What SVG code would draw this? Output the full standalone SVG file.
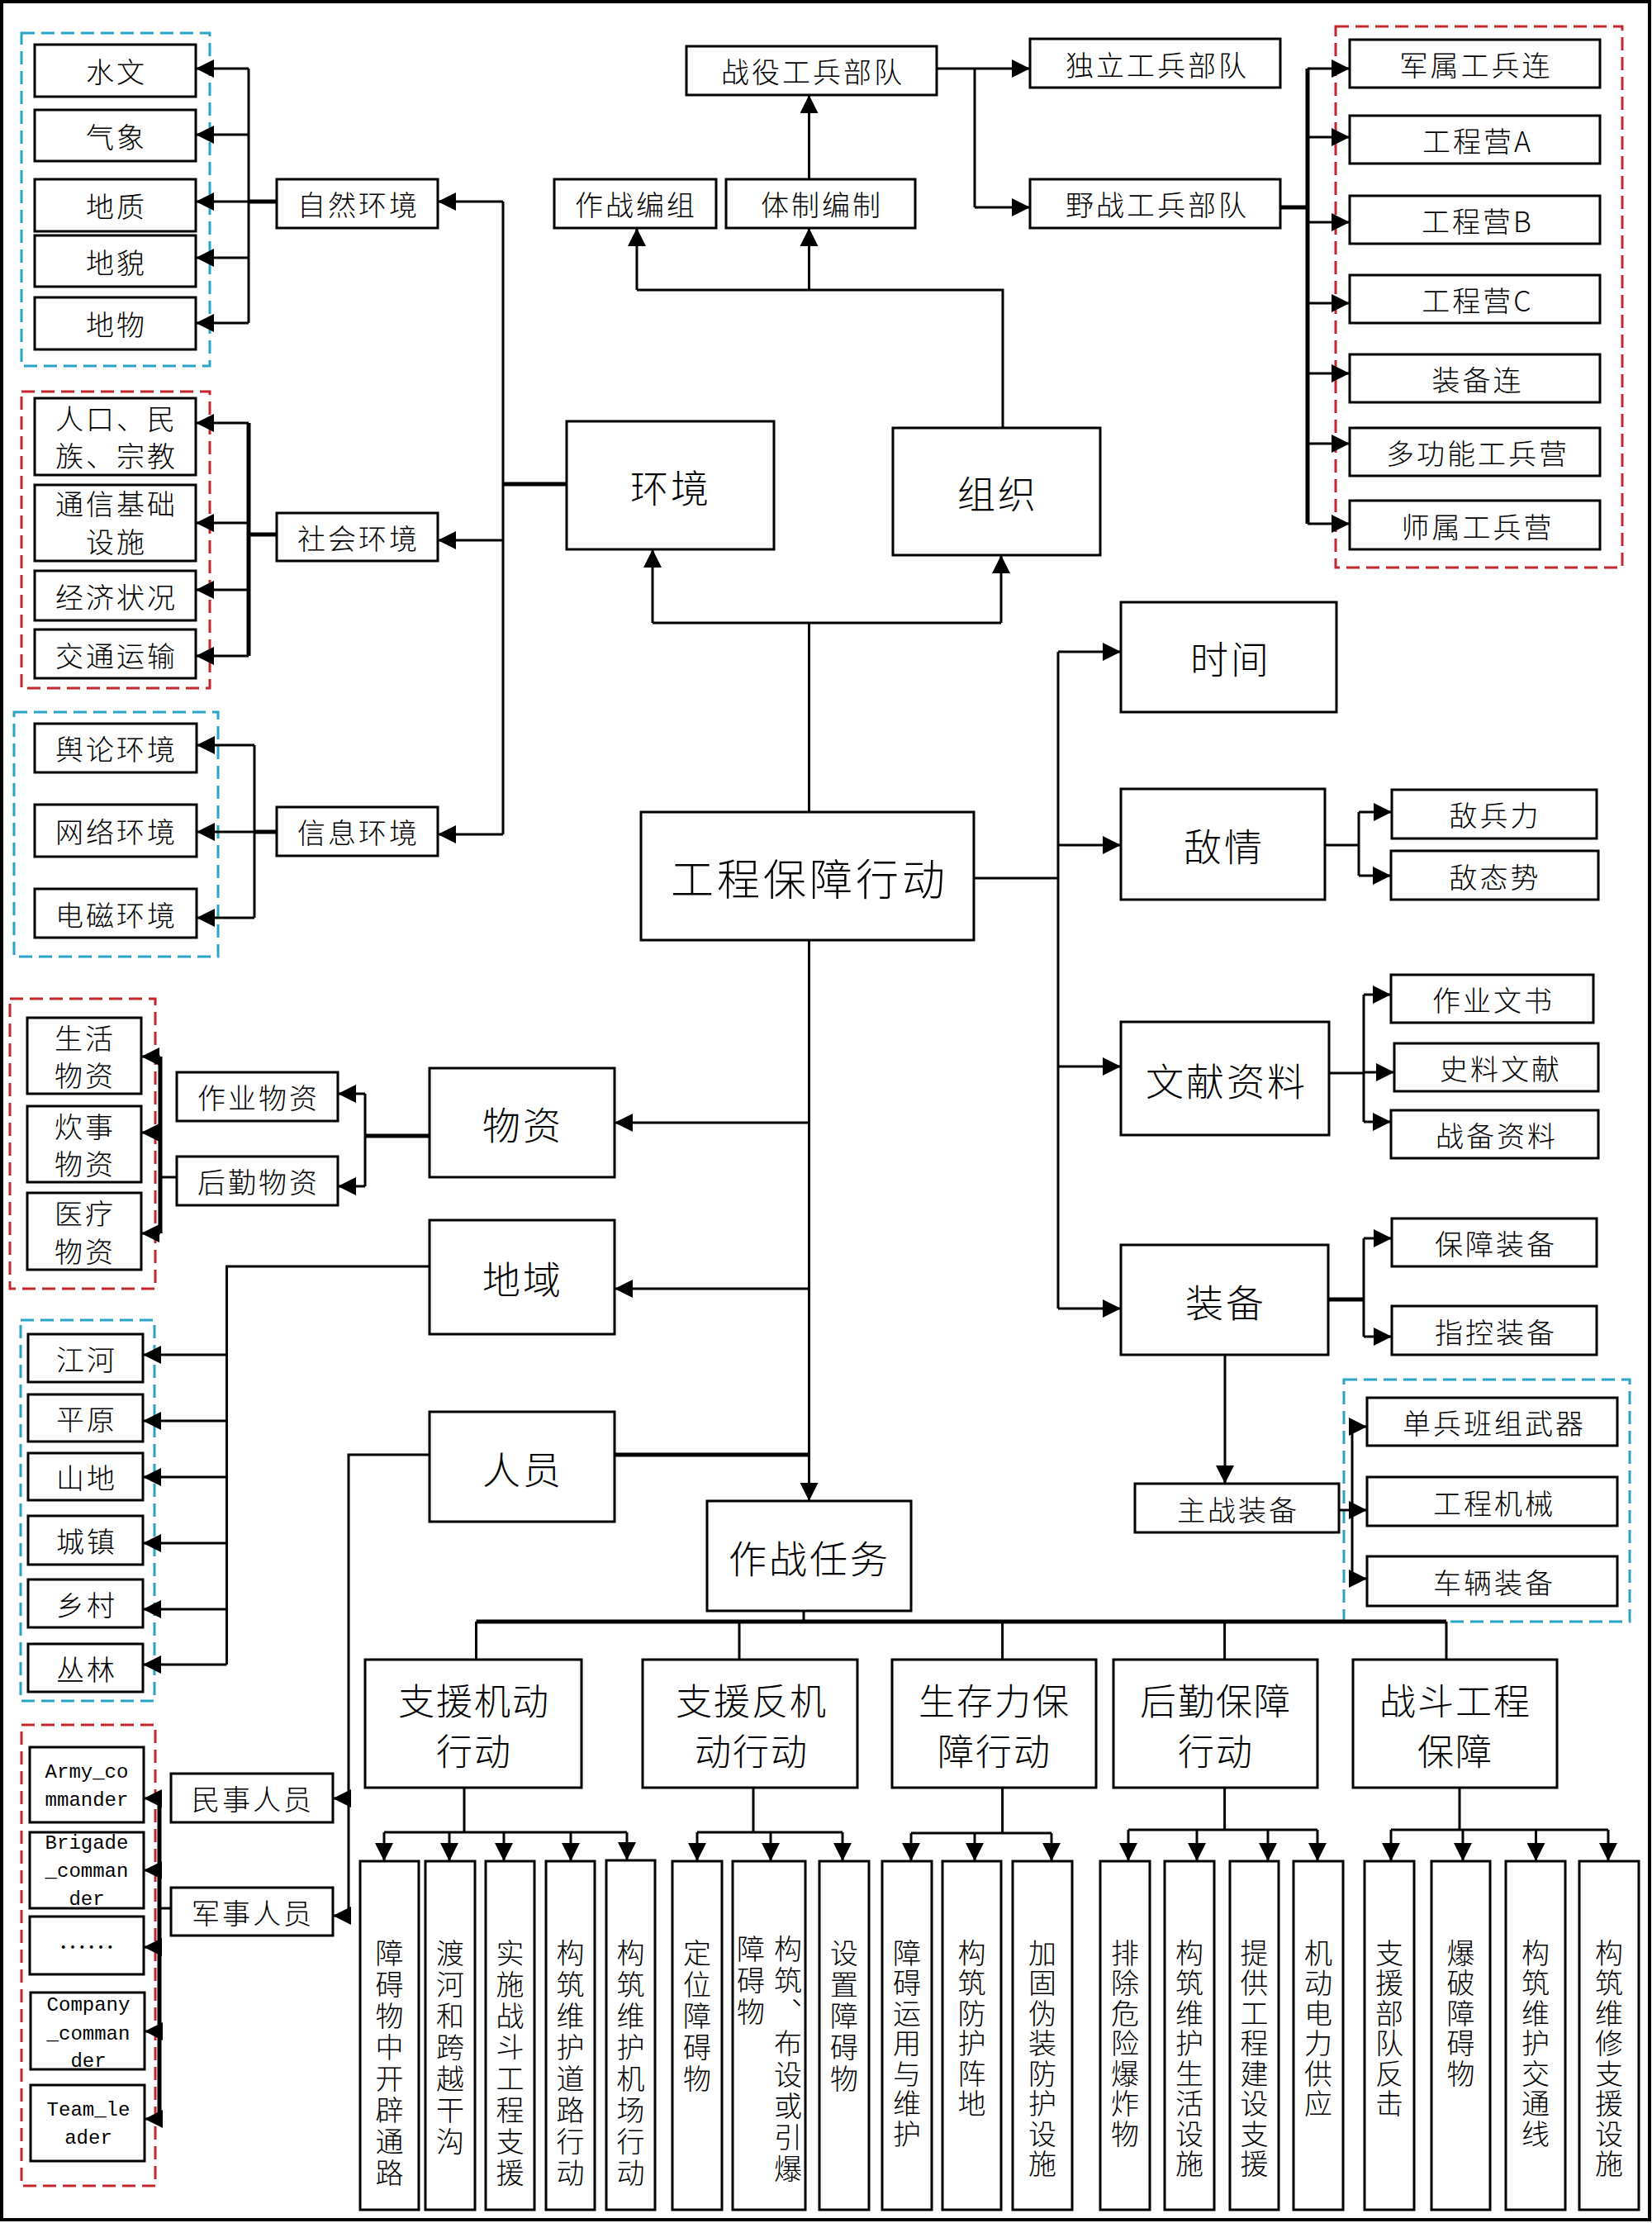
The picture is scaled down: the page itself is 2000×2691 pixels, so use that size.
<svg xmlns="http://www.w3.org/2000/svg" width="2000" height="2691" viewBox="0 0 2000 2691">
<defs>
<marker id="ah" markerUnits="userSpaceOnUse" markerWidth="24" markerHeight="22" refX="22" refY="11" orient="auto">
<path d="M0,0 L22,11 L0,22 z" fill="#000"/>
</marker>
<style>
.box{fill:#fff;stroke:#000;stroke-width:3}
.t{font-family:"Noto Sans CJK SC","Noto Sans CJK JP",sans-serif;fill:#000;text-anchor:middle;dominant-baseline:central;font-weight:300}
.s34{font-size:34px;letter-spacing:3px}
.s46{font-size:46px;letter-spacing:3px}
.s52{font-size:52px;letter-spacing:4px}
.s44{font-size:44px;letter-spacing:2px}
.vt{font-size:34px;writing-mode:vertical-rl;text-anchor:start;letter-spacing:4px}
.vt2{font-size:34px;writing-mode:vertical-rl;text-anchor:start;letter-spacing:2.5px}
.m{font-family:"Liberation Mono",monospace;font-size:24px;fill:#000;text-anchor:middle;dominant-baseline:central}
.ln{fill:none;stroke:#000;stroke-width:3}
.lk{stroke-width:5}
.ar{marker-end:url(#ah)}
.dc{fill:none;stroke:#2aa5c8;stroke-width:3;stroke-dasharray:16 8}
.dr{fill:none;stroke:#c1272d;stroke-width:3;stroke-dasharray:16 8}
</style>
</defs>
<rect x="0" y="0" width="2000" height="2691" fill="#fff"/>
<rect x="2" y="2" width="1995" height="2685" fill="none" stroke="#000" stroke-width="4"/>

<g id="groups">
<rect class="dc" x="26" y="40" width="228" height="403"/>
<rect class="dr" x="26" y="474" width="228" height="359"/>
<rect class="dc" x="17" y="862" width="247" height="296"/>
<rect class="dr" x="1617" y="32" width="347" height="655"/>
<rect class="dc" x="1627" y="1670" width="346" height="293"/>
<rect class="dr" x="12" y="1209" width="176" height="351"/>
<rect class="dc" x="25" y="1598" width="162" height="461"/>
<rect class="dr" x="26" y="2088" width="162" height="558"/>
</g>

<g id="connectors">
<path class="ln lk" d="M686,586 H609"/>
<path class="ln" d="M609,244 V1010"/>
<path class="ln ar" d="M609,244 H530"/>
<path class="ln ar" d="M609,654 H530"/>
<path class="ln ar" d="M609,1010 H530"/>
<path class="ln lk" d="M335,244 H301"/>
<path class="ln" d="M301,83 V391"/>
<path class="ln ar" d="M301,83 H237"/>
<path class="ln ar" d="M301,163 H237"/>
<path class="ln ar" d="M301,244 H237"/>
<path class="ln ar" d="M301,312 H237"/>
<path class="ln ar" d="M301,391 H237"/>
<path class="ln lk" d="M335,647 H301"/>
<path class="ln lk" d="M301,512 V794"/>
<path class="ln ar" d="M301,512 H237"/>
<path class="ln ar" d="M301,633 H237"/>
<path class="ln ar" d="M301,714 H237"/>
<path class="ln ar" d="M301,794 H237"/>
<path class="ln lk" d="M335,1007 H308"/>
<path class="ln" d="M308,902 V1111"/>
<path class="ln ar" d="M308,902 H238"/>
<path class="ln ar" d="M308,1007 H238"/>
<path class="ln ar" d="M308,1111 H238"/>

<path class="ln" d="M979.5,983 V754"/>
<path class="ln" d="M790,754 H1212"/>
<path class="ln ar" d="M790,754 V665"/>
<path class="ln ar" d="M1212,754 V672"/>
<path class="ln" d="M1214,518 V351 H771"/>
<path class="ln ar" d="M771,351 V276"/>
<path class="ln ar" d="M979.5,351 V276"/>
<path class="ln ar" d="M979.5,217 V115"/>
<path class="ln ar" d="M1134,83 H1247"/>
<path class="ln" d="M1180,83 V251"/>
<path class="ln ar" d="M1180,251 H1247"/>
<path class="ln lk" d="M1550,251 H1583"/>
<path class="ln lk" d="M1583,83 V634"/>
<path class="ln ar" d="M1583,83 H1634"/>
<path class="ln ar" d="M1583,166 H1634"/>
<path class="ln ar" d="M1583,269 H1634"/>
<path class="ln ar" d="M1583,367 H1634"/>
<path class="ln ar" d="M1583,452 H1634"/>
<path class="ln ar" d="M1583,537 H1634"/>
<path class="ln ar" d="M1583,634 H1634"/>

<path class="ln" d="M1179,1063 H1281"/>
<path class="ln" d="M1281,789 V1584"/>
<path class="ln ar" d="M1281,789 H1357"/>
<path class="ln ar" d="M1281,1023 H1357"/>
<path class="ln ar" d="M1281,1291 H1357"/>
<path class="ln ar" d="M1281,1584 H1357"/>
<path class="ln" d="M1604,1023 H1645"/>
<path class="ln" d="M1645,983 V1060"/>
<path class="ln ar" d="M1645,983 H1685"/>
<path class="ln ar" d="M1645,1060 H1684"/>
<path class="ln" d="M1609,1299 H1651"/>
<path class="ln" d="M1651,1204 V1358"/>
<path class="ln ar" d="M1651,1204 H1684"/>
<path class="ln ar" d="M1651,1298 H1688"/>
<path class="ln ar" d="M1651,1358 H1684"/>
<path class="ln lk" d="M1608,1573 H1651"/>
<path class="ln" d="M1651,1499 V1618"/>
<path class="ln ar" d="M1651,1499 H1685"/>
<path class="ln ar" d="M1651,1618 H1685"/>
<path class="ln ar" d="M1483,1640 V1796"/>
<path class="ln" d="M1621,1828 H1637"/>
<path class="ln" d="M1637,1727 V1911"/>
<path class="ln ar" d="M1637,1727 H1655"/>
<path class="ln ar" d="M1637,1828 H1655"/>
<path class="ln ar" d="M1637,1911 H1655"/>

<path class="ln ar" d="M979.5,1138 V1817"/>
<path class="ln ar" d="M979.5,1359 H744"/>
<path class="ln ar" d="M979.5,1560 H744"/>
<path class="ln lk" d="M744,1761 H979.5"/>
<path class="ln lk" d="M520,1375 H442"/>
<path class="ln" d="M442,1324 V1436"/>
<path class="ln ar" d="M442,1324 H409"/>
<path class="ln ar" d="M442,1436 H409"/>
<path class="ln" d="M214,1425 H194"/>
<path class="ln lk" d="M194,1279 V1493"/>
<path class="ln ar" d="M194,1279 H171"/>
<path class="ln ar" d="M194,1371 H171"/>
<path class="ln ar" d="M194,1493 H171"/>
<path class="ln" d="M520,1533 H274.5 V2015"/>
<path class="ln ar" d="M274.5,1640 H173"/>
<path class="ln ar" d="M274.5,1720 H173"/>
<path class="ln ar" d="M274.5,1788 H173"/>
<path class="ln ar" d="M274.5,1868 H173"/>
<path class="ln ar" d="M274.5,1948 H173"/>
<path class="ln ar" d="M274.5,2015 H173"/>
<path class="ln" d="M520,1761 H422 V2319"/>
<path class="ln ar" d="M422,2177 H403"/>
<path class="ln ar" d="M422,2319 H403"/>
<path class="ln" d="M207,2310 H193"/>
<path class="ln lk" d="M193,2177 V2565"/>
<path class="ln ar" d="M193,2177 H174"/>
<path class="ln ar" d="M193,2264 H174"/>
<path class="ln ar" d="M193,2357 H174"/>
<path class="ln ar" d="M193,2459 H175"/>
<path class="ln ar" d="M193,2565 H175"/>

<path class="ln" d="M973,1950 V1963"/>
<path class="ln lk" d="M576.5,1963 H1751"/>
<path class="ln" d="M576.5,1963 V2009 M895,1963 V2009 M1213.6,1963 V2009 M1482.6,1963 V2009 M1751,1963 V2009"/>
<path class="ln" d="M562,2164 V2218 M465,2218 H759"/>
<path class="ln ar" d="M465,2218 V2253"/>
<path class="ln ar" d="M544,2218 V2253"/>
<path class="ln ar" d="M610,2218 V2253"/>
<path class="ln ar" d="M691,2218 V2253"/>
<path class="ln ar" d="M759,2218 V2252"/>
<path class="ln" d="M912,2164 V2218 M844,2218 H1020"/>
<path class="ln ar" d="M844,2218 V2253"/>
<path class="ln ar" d="M933,2218 V2253"/>
<path class="ln ar" d="M1020,2218 V2253"/>
<path class="ln" d="M1213.6,2164 V2219 M1103,2219 H1273"/>
<path class="ln ar" d="M1103,2219 V2253"/>
<path class="ln ar" d="M1180,2219 V2253"/>
<path class="ln ar" d="M1273,2219 V2253"/>
<path class="ln" d="M1482.6,2164 V2215 M1366,2215 H1595"/>
<path class="ln ar" d="M1366,2215 V2253"/>
<path class="ln ar" d="M1449,2215 V2253"/>
<path class="ln ar" d="M1535,2215 V2253"/>
<path class="ln ar" d="M1595,2215 V2253"/>
<path class="ln" d="M1767,2164 V2215 M1684,2215 H1947"/>
<path class="ln ar" d="M1684,2215 V2253"/>
<path class="ln ar" d="M1771,2215 V2253"/>
<path class="ln ar" d="M1859.5,2215 V2253"/>
<path class="ln ar" d="M1947,2215 V2253"/>
</g>

<g id="n-shuiwen"><rect class="box" x="42" y="54" width="195" height="63"/><text class="t s34" x="141" y="85">水文</text></g>
<g id="n-qixiang"><rect class="box" x="42" y="133" width="195" height="62"/><text class="t s34" x="141" y="164">气象</text></g>
<g id="n-dizhi"><rect class="box" x="42" y="217" width="195" height="63"/><text class="t s34" x="141" y="248">地质</text></g>
<g id="n-dimao"><rect class="box" x="42" y="285" width="195" height="62"/><text class="t s34" x="141" y="316">地貌</text></g>
<g id="n-diwu"><rect class="box" x="42" y="360" width="195" height="63"/><text class="t s34" x="141" y="391">地物</text></g>
<g id="n-ziran"><rect class="box" x="335" y="217" width="195" height="59"/><text class="t s34" x="434" y="246">自然环境</text></g>
<g id="n-renkou"><rect class="box" x="42" y="482" width="195" height="93"/><text class="t s34" x="141" y="505"><tspan x="141" y="505">人口、民</tspan><tspan x="141" y="550">族、宗教</tspan></text></g>
<g id="n-tongxin"><rect class="box" x="42" y="587" width="195" height="92"/><text class="t s34" x="141" y="608"><tspan x="141" y="608">通信基础</tspan><tspan x="141" y="654">设施</tspan></text></g>
<g id="n-jingji"><rect class="box" x="42" y="691" width="195" height="60"/><text class="t s34" x="141" y="721">经济状况</text></g>
<g id="n-jiaotong"><rect class="box" x="42" y="762" width="195" height="59"/><text class="t s34" x="141" y="792">交通运输</text></g>
<g id="n-shehui"><rect class="box" x="335" y="621" width="195" height="58"/><text class="t s34" x="434" y="650">社会环境</text></g>
<g id="n-yulun"><rect class="box" x="42" y="876" width="196" height="59"/><text class="t s34" x="141" y="905">舆论环境</text></g>
<g id="n-wangluo"><rect class="box" x="42" y="974" width="196" height="63"/><text class="t s34" x="141" y="1005">网络环境</text></g>
<g id="n-dianci"><rect class="box" x="42" y="1076" width="196" height="59"/><text class="t s34" x="141" y="1106">电磁环境</text></g>
<g id="n-xinxi"><rect class="box" x="335" y="977" width="195" height="59"/><text class="t s34" x="434" y="1006">信息环境</text></g>
<g id="n-huanjing"><rect class="box" x="686" y="510" width="251" height="155"/><text class="t s46" x="812" y="588">环境</text></g>
<g id="n-zuzhi"><rect class="box" x="1081" y="518" width="251" height="154"/><text class="t s46" x="1208" y="595">组织</text></g>
<g id="n-zuozhanbianzu"><rect class="box" x="671" y="217" width="196" height="59"/><text class="t s34" x="770" y="246">作战编组</text></g>
<g id="n-tizhi"><rect class="box" x="879" y="217" width="229" height="59"/><text class="t s34" x="995" y="246">体制编制</text></g>
<g id="n-zhanyi"><rect class="box" x="831" y="56" width="303" height="59"/><text class="t s34" x="984" y="85">战役工兵部队</text></g>
<g id="n-duli"><rect class="box" x="1247" y="47" width="303" height="59"/><text class="t s34" x="1401" y="77">独立工兵部队</text></g>
<g id="n-yezhan"><rect class="box" x="1247" y="217" width="303" height="59"/><text class="t s34" x="1401" y="246">野战工兵部队</text></g>
<g id="n-junshu"><rect class="box" x="1634" y="48" width="303" height="58"/><text class="t s34" x="1787" y="77">军属工兵连</text></g>
<g id="n-gcya"><rect class="box" x="1634" y="140" width="303" height="58"/><text class="t s34" x="1789" y="169">工程营A</text></g>
<g id="n-gcyb"><rect class="box" x="1634" y="237" width="303" height="58"/><text class="t s34" x="1789" y="266">工程营B</text></g>
<g id="n-gcyc"><rect class="box" x="1634" y="333" width="303" height="58"/><text class="t s34" x="1789" y="362">工程营C</text></g>
<g id="n-zhuangbeilian"><rect class="box" x="1634" y="429" width="303" height="58"/><text class="t s34" x="1789" y="458">装备连</text></g>
<g id="n-duogongneng"><rect class="box" x="1634" y="518" width="303" height="58"/><text class="t s34" x="1789" y="547">多功能工兵营</text></g>
<g id="n-shishu"><rect class="box" x="1634" y="606" width="303" height="59"/><text class="t s34" x="1789" y="636">师属工兵营</text></g>

<g id="n-main"><rect class="box" x="776" y="983" width="403" height="155"/><text class="t s52" x="980" y="1061">工程保障行动</text></g>
<g id="n-shijian"><rect class="box" x="1357" y="729" width="261" height="133"/><text class="t s46" x="1490" y="795">时间</text></g>
<g id="n-diqing"><rect class="box" x="1357" y="955" width="247" height="134"/><text class="t s46" x="1482" y="1022">敌情</text></g>
<g id="n-dibingli"><rect class="box" x="1685" y="956" width="248" height="59"/><text class="t s34" x="1810" y="985">敌兵力</text></g>
<g id="n-ditaishi"><rect class="box" x="1684" y="1030" width="251" height="59"/><text class="t s34" x="1810" y="1060">敌态势</text></g>
<g id="n-wenxian"><rect class="box" x="1357" y="1237" width="252" height="137"/><text class="t s46" x="1485" y="1306">文献资料</text></g>
<g id="n-zuoyewenshu"><rect class="box" x="1684" y="1180" width="245" height="58"/><text class="t s34" x="1808" y="1209">作业文书</text></g>
<g id="n-shiliao"><rect class="box" x="1688" y="1263" width="247" height="58"/><text class="t s34" x="1817" y="1292">史料文献</text></g>
<g id="n-zhanbei"><rect class="box" x="1684" y="1344" width="251" height="58"/><text class="t s34" x="1812" y="1373">战备资料</text></g>
<g id="n-zhuangbei"><rect class="box" x="1357" y="1507" width="251" height="133"/><text class="t s46" x="1484" y="1574">装备</text></g>
<g id="n-baozhang"><rect class="box" x="1685" y="1475" width="248" height="58"/><text class="t s34" x="1811" y="1504">保障装备</text></g>
<g id="n-zhikong"><rect class="box" x="1685" y="1581" width="248" height="59"/><text class="t s34" x="1811" y="1611">指控装备</text></g>
<g id="n-zhuzhan"><rect class="box" x="1374" y="1796" width="247" height="59"/><text class="t s34" x="1499" y="1826">主战装备</text></g>
<g id="n-danbing"><rect class="box" x="1655" y="1692" width="303" height="58"/><text class="t s34" x="1809" y="1721">单兵班组武器</text></g>
<g id="n-gongchengjixie"><rect class="box" x="1655" y="1788" width="303" height="59"/><text class="t s34" x="1809" y="1818">工程机械</text></g>
<g id="n-cheliang"><rect class="box" x="1655" y="1884" width="303" height="60"/><text class="t s34" x="1809" y="1914">车辆装备</text></g>

<g id="n-wuzi"><rect class="box" x="520" y="1293" width="224" height="132"/><text class="t s46" x="633" y="1359">物资</text></g>
<g id="n-shenghuo"><rect class="box" x="33" y="1232" width="138" height="92"/><text class="t s34" x="103" y="1255"><tspan x="103" y="1255">生活</tspan><tspan x="103" y="1300">物资</tspan></text></g>
<g id="n-chuishi"><rect class="box" x="33" y="1339" width="138" height="92"/><text class="t s34" x="103" y="1362"><tspan x="103" y="1362">炊事</tspan><tspan x="103" y="1407">物资</tspan></text></g>
<g id="n-yiliao"><rect class="box" x="33" y="1444" width="138" height="93"/><text class="t s34" x="103" y="1467"><tspan x="103" y="1467">医疗</tspan><tspan x="103" y="1513">物资</tspan></text></g>
<g id="n-zuoyewuzi"><rect class="box" x="214" y="1298" width="195" height="59"/><text class="t s34" x="313" y="1327">作业物资</text></g>
<g id="n-houqinwuzi"><rect class="box" x="214" y="1400" width="195" height="59"/><text class="t s34" x="313" y="1429">后勤物资</text></g>
<g id="n-diyu"><rect class="box" x="520" y="1477" width="224" height="138"/><text class="t s46" x="633" y="1546">地域</text></g>
<g id="n-jianghe"><rect class="box" x="34" y="1615" width="139" height="58"/><text class="t s34" x="105" y="1644">江河</text></g>
<g id="n-pingyuan"><rect class="box" x="34" y="1688" width="139" height="57"/><text class="t s34" x="105" y="1716">平原</text></g>
<g id="n-shandi"><rect class="box" x="34" y="1759" width="139" height="57"/><text class="t s34" x="105" y="1787">山地</text></g>
<g id="n-chengzhen"><rect class="box" x="34" y="1835" width="139" height="59"/><text class="t s34" x="105" y="1864">城镇</text></g>
<g id="n-xiangcun"><rect class="box" x="34" y="1912" width="139" height="58"/><text class="t s34" x="105" y="1941">乡村</text></g>
<g id="n-conglin"><rect class="box" x="34" y="1990" width="139" height="58"/><text class="t s34" x="105" y="2019">丛林</text></g>
<g id="n-renyuan"><rect class="box" x="520" y="1709" width="224" height="133"/><text class="t s46" x="633" y="1776">人员</text></g>
<g id="n-minshi"><rect class="box" x="207" y="2147" width="196" height="59"/><text class="t s34" x="306" y="2176">民事人员</text></g>
<g id="n-junshi"><rect class="box" x="207" y="2285" width="196" height="58"/><text class="t s34" x="306" y="2314">军事人员</text></g>
<g id="n-army"><rect class="box" x="36" y="2115" width="138" height="91"/><text class="m" x="105" y="2145"><tspan x="105" y="2145">Army_co</tspan><tspan x="105" y="2179">mmander</tspan></text></g>
<g id="n-brigade"><rect class="box" x="36" y="2218" width="138" height="92"/><text class="m" x="105" y="2231"><tspan x="105" y="2231">Brigade</tspan><tspan x="105" y="2265">_comman</tspan><tspan x="105" y="2299">der</tspan></text></g>
<g id="n-dots"><rect class="box" x="36" y="2320" width="138" height="70"/><text class="t" style="font-size:34px" x="105" y="2355">……</text></g>
<g id="n-company"><rect class="box" x="37" y="2412" width="138" height="93"/><text class="m" x="107" y="2427"><tspan x="107" y="2427">Company</tspan><tspan x="107" y="2462">_comman</tspan><tspan x="107" y="2495">der</tspan></text></g>
<g id="n-team"><rect class="box" x="37" y="2524" width="138" height="92"/><text class="m" x="107" y="2554"><tspan x="107" y="2554">Team_le</tspan><tspan x="107" y="2588">ader</tspan></text></g>

<g id="n-zuozhanrenwu"><rect class="box" x="856" y="1817" width="247" height="133"/><text class="t s46" x="980" y="1884">作战任务</text></g>
<g id="n-t1"><rect class="box" x="442" y="2009" width="262" height="155"/><text class="t s44" x="574" y="2057"><tspan x="574" y="2057">支援机动</tspan><tspan x="574" y="2118">行动</tspan></text></g>
<g id="n-t2"><rect class="box" x="778" y="2009" width="260" height="155"/><text class="t s44" x="910" y="2057"><tspan x="910" y="2057">支援反机</tspan><tspan x="910" y="2118">动行动</tspan></text></g>
<g id="n-t3"><rect class="box" x="1080" y="2009" width="247" height="155"/><text class="t s44" x="1204" y="2057"><tspan x="1204" y="2057">生存力保</tspan><tspan x="1204" y="2118">障行动</tspan></text></g>
<g id="n-t4"><rect class="box" x="1348" y="2009" width="247" height="155"/><text class="t s44" x="1472" y="2057"><tspan x="1472" y="2057">后勤保障</tspan><tspan x="1472" y="2118">行动</tspan></text></g>
<g id="n-t5"><rect class="box" x="1638" y="2009" width="247" height="155"/><text class="t s44" x="1762" y="2057"><tspan x="1762" y="2057">战斗工程</tspan><tspan x="1762" y="2118">保障</tspan></text></g>

<g id="n-l1"><rect class="box" x="436" y="2253" width="71" height="422"/><text class="t vt" x="471.5" y="2347">障碍物中开辟通路</text></g>
<g id="n-l2"><rect class="box" x="515" y="2253" width="60" height="422"/><text class="t vt" x="545" y="2347">渡河和跨越干沟</text></g>
<g id="n-l3"><rect class="box" x="588" y="2253" width="59" height="422"/><text class="t vt" x="617.5" y="2347">实施战斗工程支援</text></g>
<g id="n-l4"><rect class="box" x="661" y="2253" width="59" height="422"/><text class="t vt" x="690.5" y="2347">构筑维护道路行动</text></g>
<g id="n-l5"><rect class="box" x="734" y="2252" width="59" height="423"/><text class="t vt" x="763.5" y="2347">构筑维护机场行动</text></g>
<g id="n-l6"><rect class="box" x="814" y="2253" width="60" height="422"/><text class="t vt" x="844" y="2347">定位障碍物</text></g>
<g id="n-l7"><rect class="box" x="887" y="2253" width="88" height="422"/><text class="t vt" x="954" y="2342">构筑、布设或引爆</text><text class="t vt" x="909" y="2342">障碍物</text></g>
<g id="n-l8"><rect class="box" x="992" y="2253" width="60" height="422"/><text class="t vt" x="1022" y="2347">设置障碍物</text></g>
<g id="n-l9"><rect class="box" x="1068" y="2253" width="60" height="422"/><text class="t vt2" x="1098" y="2347">障碍运用与维护</text></g>
<g id="n-l10"><rect class="box" x="1141" y="2253" width="71" height="422"/><text class="t vt2" x="1176.5" y="2347">构筑防护阵地</text></g>
<g id="n-l11"><rect class="box" x="1226" y="2253" width="72" height="422"/><text class="t vt2" x="1262" y="2347">加固伪装防护设施</text></g>
<g id="n-l12"><rect class="box" x="1332" y="2253" width="60" height="422"/><text class="t vt2" x="1362" y="2347">排除危险爆炸物</text></g>
<g id="n-l13"><rect class="box" x="1410" y="2253" width="60" height="422"/><text class="t vt2" x="1440" y="2347">构筑维护生活设施</text></g>
<g id="n-l14"><rect class="box" x="1489" y="2253" width="59" height="422"/><text class="t vt2" x="1518.5" y="2347">提供工程建设支援</text></g>
<g id="n-l15"><rect class="box" x="1566" y="2253" width="60" height="422"/><text class="t vt2" x="1596" y="2347">机动电力供应</text></g>
<g id="n-l16"><rect class="box" x="1652" y="2253" width="60" height="422"/><text class="t vt2" x="1682" y="2347">支援部队反击</text></g>
<g id="n-l17"><rect class="box" x="1733" y="2253" width="71" height="422"/><text class="t vt2" x="1768.5" y="2347">爆破障碍物</text></g>
<g id="n-l18"><rect class="box" x="1823" y="2253" width="72" height="422"/><text class="t vt2" x="1859" y="2347">构筑维护交通线</text></g>
<g id="n-l19"><rect class="box" x="1912" y="2253" width="72" height="422"/><text class="t vt2" x="1948" y="2347">构筑维修支援设施</text></g>
</svg>
